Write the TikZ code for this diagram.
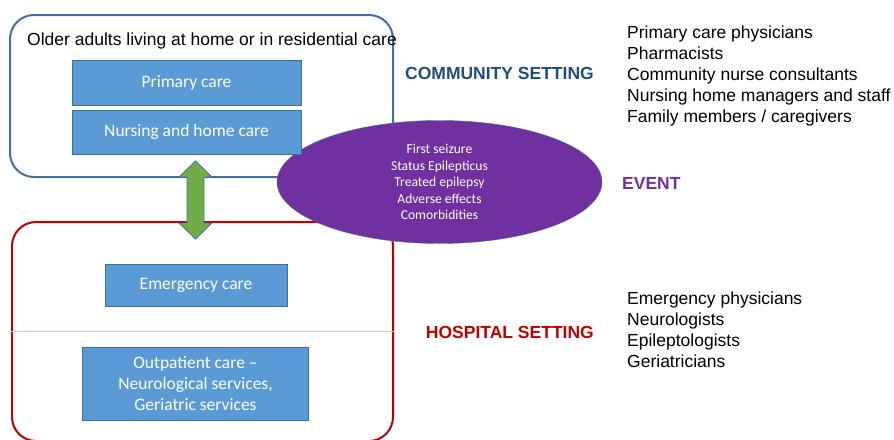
\documentclass[tikz,border=0pt]{standalone}
\usepackage{fontspec}
\setmainfont{Liberation Sans}
\newfontfamily\calibri{Carlito}
\usetikzlibrary{shapes.geometric}

\definecolor{commblue}{HTML}{41719C}
\definecolor{commtext}{HTML}{1F4E79}
\definecolor{careblue}{HTML}{5B9BD5}
\definecolor{hospred}{HTML}{C00000}
\definecolor{divpink}{HTML}{EBBDBD}
\definecolor{eventpurple}{HTML}{7030A0}
\definecolor{linkgreen}{HTML}{70AD47}

\begin{document}
\begin{tikzpicture}[x=1pt, y=-1pt]
	\def\leftcol{186.5}
	\def\lowcol{195.5}
	\def\staffx{627}
	\def\headx{594}

	\tikzset{
		setting/.style={rectangle, rounded corners=24pt, line width=2pt, inner sep=0pt},
		carebox/.style={rectangle, draw=commblue, fill=careblue, text=white, align=center, inner sep=0pt,
			font=\calibri\fontsize{17.5}{20.8}\selectfont},
		event/.style={ellipse, draw=commblue, fill=eventpurple, text=white, align=center, inner sep=0pt,
			minimum width=325pt, minimum height=123pt, font=\calibri\fontsize{13.6}{16.4}\selectfont},
		link/.style={draw=commblue, fill=linkgreen, line width=0.8pt, line join=miter},
		heading/.style={anchor=base east, inner sep=0pt, font=\bfseries\fontsize{17.5}{21}\selectfont},
		staff/.style={anchor=north west, align=left, inner sep=0pt, font=\fontsize{17.5}{21}\selectfont}
	}

	\useasboundingbox (0,0) rectangle (894,439);
	\clip (0,0) rectangle (894,439);

	% settings
	\node[setting, draw=commblue, minimum width=383pt, minimum height=162pt] (community) at (201.5,96) {};
	\node[setting, draw=hospred, minimum width=381pt, minimum height=219pt] (hospital) at (202.5,331.5) {};
	\draw[divpink, line width=1.5pt] (hospital.west) -- (hospital.east);

	\node[anchor=base west, inner sep=0pt, font=\fontsize{17.5}{21}\selectfont] (residents) at (27,45)
		{Older adults living at home or in residential care};

	% event in the middle
	\node[event] (event) at (439.5,182) {First seizure\\Status Epilepticus\\Treated epilepsy\\Adverse effects\\Comorbidities};

	% care boxes
	\node[carebox, minimum width=229pt, minimum height=45pt] (primary) at (\leftcol,82.5) {Primary care};
	\node[carebox, minimum width=229pt, minimum height=44pt] (nursing) at (\leftcol,132) {Nursing and home care};
	\node[carebox, minimum width=182pt, minimum height=42pt] (emergency) at (196,285) {Emergency care};
	\node[carebox, minimum width=226pt, minimum height=73pt] (outpatient) at (\lowcol,383.5)
		{Outpatient care –\\Neurological services,\\Geriatric services};

	% link between the two settings (double arrow)
	\coordinate (transfer) at (195.5,200);
	\draw[link] ([yshift=39pt]transfer) -- ++(16.5,16) -- ++(-8,0) -- ++(0,46) -- ++(8,0)
		-- ++(-16.5,16) -- ++(-16.5,-16) -- ++(8,0) -- ++(0,-46) -- ++(-8,0) -- cycle;

	% headings
	\node[heading, text=commtext] (commhead) at (\headx,79) {COMMUNITY SETTING};
	\node[heading, text=eventpurple, anchor=base west] (eventhead) at (622,189) {EVENT};
	\node[heading, text=hospred] (hosphead) at (\headx,338) {HOSPITAL SETTING};

	% who is involved
	\node[staff] (commstaff) at (\staffx,26) {Primary care physicians\\Pharmacists\\Community nurse consultants\\Nursing home managers and staff\\Family members / caregivers};
	\node[staff] (hospstaff) at (\staffx,292) {Emergency physicians\\Neurologists\\Epileptologists\\Geriatricians};
\end{tikzpicture}
\end{document}
